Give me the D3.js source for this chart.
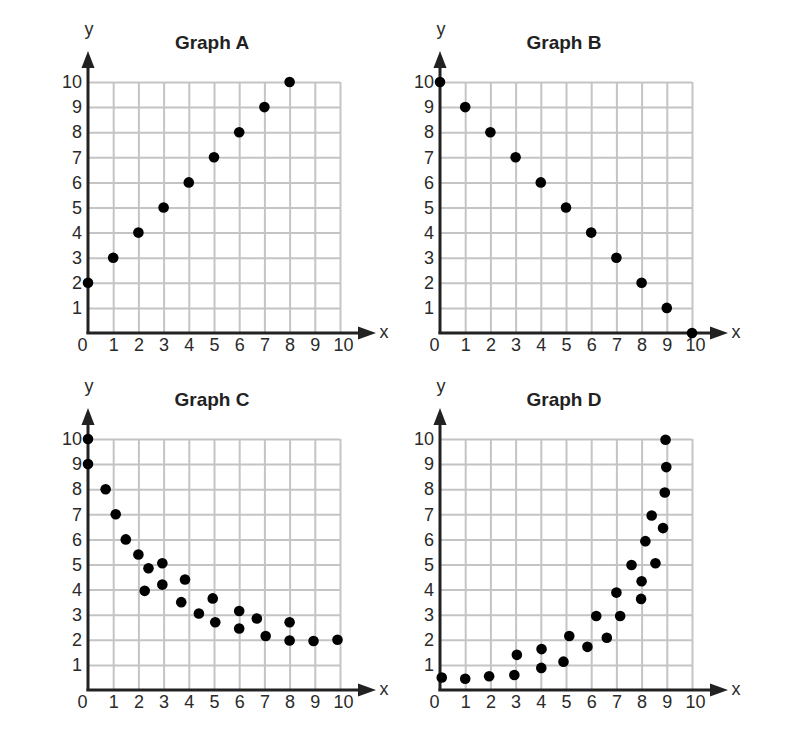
<!DOCTYPE html>
<html><head><meta charset="utf-8">
<script src="https://cdn.jsdelivr.net/npm/d3@7"></script>
<style>body{margin:0;background:#fff}svg{display:block}</style>
</head><body><svg id="c" width="800" height="748"></svg>
<script>
const titles = ["Graph A","Graph B","Graph C","Graph D"];
const tickVals = [0,1,2,3,4,5,6,7,8,9,10];
const tickLabels = ["0","1","2","3","4","5","6","7","8","9","10"];
const graphA = [[0,2],[1,3],[2,4],[3,5],[4,6],[5,7],[6,8],[7,9],[8,10]];
const graphB = [[0,10],[1,9],[2,8],[3,7],[4,6],[5,5],[6,4],[7,3],[8,2],[9,1],[10,0]];
const graphC = [[0,10],[0,9],[0.7,8],[1.1,7],[1.5,6],[2,5.4],[2.4,4.85],[2.25,3.95],[2.95,5.05],[2.95,4.2],[3.85,4.4],[3.7,3.5],[4.4,3.05],[4.95,3.65],[5.05,2.7],[6,3.15],[6,2.45],[6.7,2.85],[7.05,2.15],[8,2.7],[8,1.97],[8.95,1.95],[9.9,2]];
const graphD = [[0.07,0.5],[1,0.45],[1.95,0.55],[2.95,0.6],[3.05,1.4],[4.02,0.88],[4.03,1.63],[4.9,1.13],[5.13,2.15],[5.85,1.72],[6.2,2.95],[6.62,2.08],[7,3.88],[7.15,2.95],[7.6,4.98],[8,4.33],[7.98,3.63],[8.15,5.93],[8.55,5.05],[8.4,6.95],[8.85,6.45],[8.92,7.87],[8.98,8.88],[8.95,9.97]];
const datasets = [graphA, graphB, graphC, graphD];
const origins = [[88,82],[440,82],[88,439],[440,439]];

const W = 252, H = 251;
const svg = d3.select("#c");
const font = "'Liberation Sans', Arial, sans-serif";

datasets.forEach((data, i) => {
  const g = svg.append("g").attr("transform", `translate(${origins[i][0]},${origins[i][1]})`);
  const x = d3.scaleLinear().domain([0,10]).range([0,W]);
  const y = d3.scaleLinear().domain([0,10]).range([H,0]);

  // grid
  const gx = g.append("g").attr("transform", `translate(0,${H})`)
    .call(d3.axisBottom(x).tickValues(tickVals.slice(1)).tickSize(-H).tickFormat(""));
  const gy = g.append("g")
    .call(d3.axisLeft(y).tickValues(tickVals.slice(1)).tickSize(-W).tickFormat(""));
  [gx, gy].forEach(a => {
    a.select(".domain").remove();
    a.selectAll("line").attr("stroke", "#c4c4c4").attr("stroke-width", 2);
  });

  // tick labels
  const lx = g.append("g").attr("transform", `translate(0,${H})`)
    .call(d3.axisBottom(x).tickValues(tickVals).tickSize(0).tickPadding(5).tickFormat((d,k) => tickLabels[k]));
  lx.select(".domain").remove();
  lx.selectAll("text").attr("font-family", font).attr("font-size", 18).attr("fill", "#2a2a2a")
    .attr("dx", d => d === 0 ? -6 : (d === 10 ? 3 : 0));
  const ly = g.append("g")
    .call(d3.axisLeft(y).tickValues(tickVals.slice(1)).tickSize(0).tickPadding(6).tickFormat(d => tickLabels[d]));
  ly.select(".domain").remove();
  ly.selectAll("text").attr("font-family", font).attr("font-size", 18).attr("fill", "#2a2a2a");

  // axes with arrows
  const ac = "#222";
  g.append("line").attr("x1", 0).attr("x2", 0).attr("y1", H + 1).attr("y2", -16)
    .attr("stroke", ac).attr("stroke-width", 3);
  g.append("path").attr("d", `M0,-31 L-6.5,-14 L6.5,-14 Z`).attr("fill", ac);
  g.append("line").attr("x1", -1.5).attr("x2", W + 18).attr("y1", H).attr("y2", H)
    .attr("stroke", ac).attr("stroke-width", 3);
  g.append("path").attr("d", `M${W+36},${H} L${W+18},${H-6.5} L${W+18},${H+6.5} Z`).attr("fill", ac);

  g.append("text").attr("x", 1).attr("y", -47).attr("text-anchor", "middle")
    .attr("font-family", font).attr("font-size", 18).attr("fill", "#2a2a2a").text("y");
  g.append("text").attr("x", W + 44).attr("y", H + 5).attr("text-anchor", "middle")
    .attr("font-family", font).attr("font-size", 18).attr("fill", "#2a2a2a").text("x");

  g.append("text").attr("x", x(5) - 2).attr("y", -33).attr("text-anchor", "middle")
    .attr("font-family", font).attr("font-size", 19).attr("font-weight", "bold").attr("fill", "#222")
    .text(titles[i]);

  g.selectAll("circle.pt").data(data).enter().append("circle").attr("class","pt")
    .attr("cx", d => x(d[0])).attr("cy", d => y(d[1])).attr("r", 5.3).attr("fill", "#000");
});
</script></body></html>
